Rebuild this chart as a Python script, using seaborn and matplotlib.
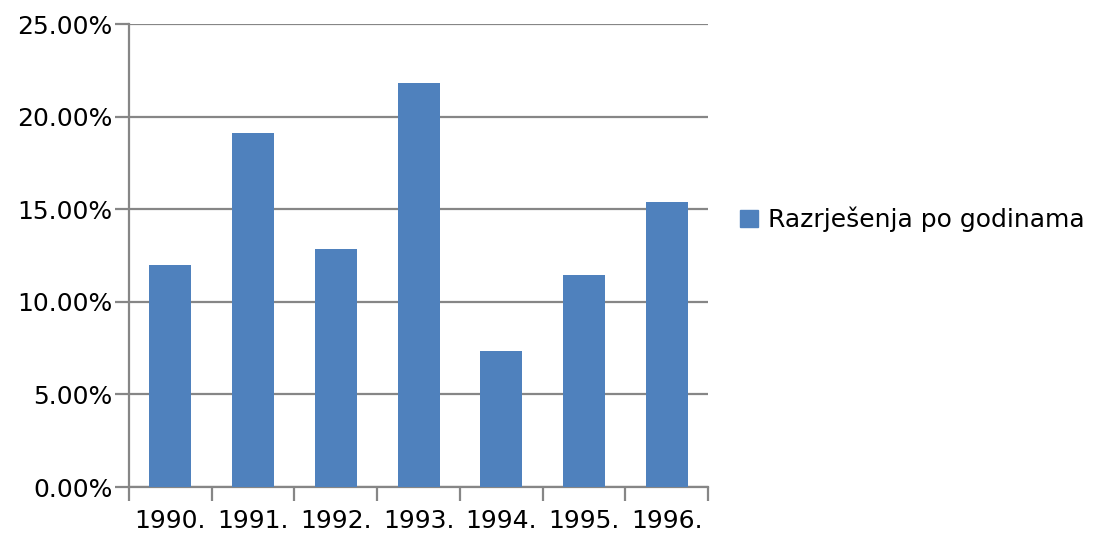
import pandas as pd
import seaborn as sns
import matplotlib.pyplot as plt
from matplotlib.ticker import FuncFormatter, FixedLocator
from matplotlib.patches import Patch

# podaci
godine = ['1990.', '1991.', '1992.', '1993.', '1994.', '1995.', '1996.']
razrjesenja = [12.0, 19.1, 12.85, 21.8, 7.35, 11.45, 15.4]
naziv_serije = 'Razrješenja po godinama'

df = pd.DataFrame({'godina': godine, 'postotak': razrjesenja})

sns.set_theme(style="white")
plt.rcParams['font.family'] = ['DejaVu Sans']

siva = '#868686'
plava = '#4F81BD'

fig = plt.figure(figsize=(10.95, 5.34), dpi=100)
ax = fig.add_axes([0.1178, 0.088, 0.529, 0.867])

sns.barplot(data=df, x='godina', y='postotak', color=plava, width=0.51,
            saturation=1, linewidth=0, edgecolor=plava, ax=ax, zorder=3)

ax.set_ylim(0, 25)
ax.set_xlim(-0.5, len(godine) - 0.5)
ax.set_yticks([0, 5, 10, 15, 20, 25])
ax.yaxis.set_major_formatter(FuncFormatter(lambda v, p: f'{v:.2f}%'))
ax.yaxis.grid(True, color=siva, linewidth=1.6, zorder=0)
ax.set_axisbelow(True)

# oznake izmedju kategorija
ax.xaxis.set_minor_locator(FixedLocator([i - 0.5 for i in range(len(godine) + 1)]))
ax.tick_params(axis='x', which='major', bottom=True, length=0, pad=16,
               labelsize=18, labelcolor='black')
ax.tick_params(axis='x', which='minor', bottom=True, length=10, width=1.6,
               color=siva, direction='out')
ax.tick_params(axis='y', which='major', left=True, length=10, width=1.6, color=siva,
               direction='out', labelsize=18, labelcolor='black', pad=2)

for s in ['top', 'right']:
    ax.spines[s].set_visible(False)
for s in ['left', 'bottom']:
    ax.spines[s].set_color(siva)
    ax.spines[s].set_linewidth(1.6)

ax.set_xlabel('')
ax.set_ylabel('')

ax.legend(handles=[Patch(color=plava, label=naziv_serije)], loc='center left',
          bbox_to_anchor=(1.016, 0.578), frameon=False, fontsize=18,
          labelcolor='black', handlelength=0.7, handleheight=0.7, handletextpad=0.4)

fig.savefig('out.png', dpi=100)
